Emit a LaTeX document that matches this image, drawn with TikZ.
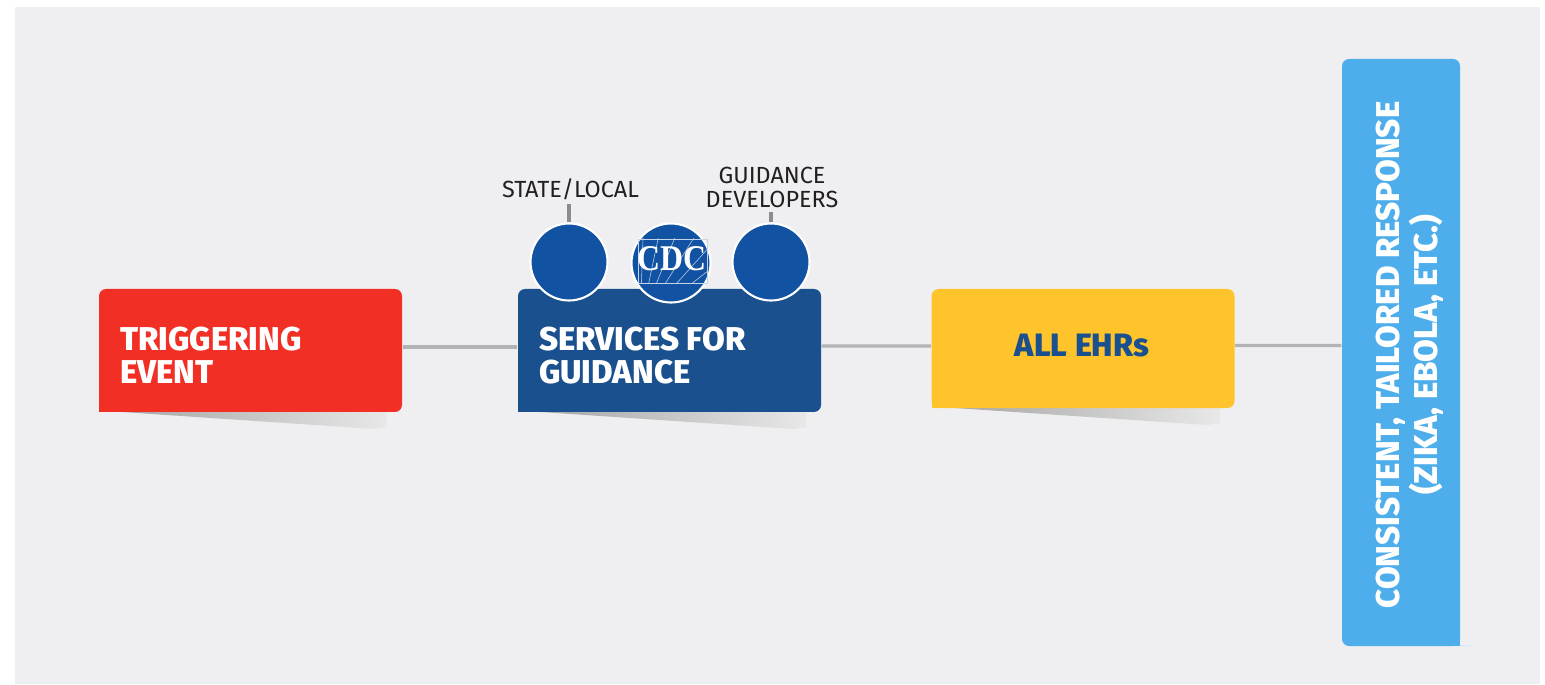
\documentclass[tikz,border=0pt]{standalone}
\usepackage{fontspec}
\setmainfont{Fira Sans}
\newfontfamily\heavyfont{Fira Sans ExtraBold}
\newfontfamily\cdcfont{Liberation Serif}
\definecolor{panelgrey}{RGB}{239,239,242}
\definecolor{trigred}{RGB}{241,47,37}
\definecolor{servblue}{RGB}{27,80,142}
\definecolor{circblue}{RGB}{18,82,162}
\definecolor{ehryellow}{RGB}{255,196,44}
\definecolor{respblue}{RGB}{77,174,235}
\definecolor{linegrey}{RGB}{178,179,181}
\definecolor{pingrey}{RGB}{140,140,142}
\definecolor{labelblack}{RGB}{35,31,32}
\tikzset{
  stepbox/.style={rounded corners=2pt,inner sep=0pt,minimum width=3.03cm},
  boxtext/.style={font=\fontsize{9.38}{9.4}\selectfont\heavyfont,text=white,inner sep=0pt},
  link/.style={linegrey,line width=0.9pt},
  pin/.style={pingrey,line width=1.1pt},
  actor/.style={circle,fill=circblue,draw=white,line width=0.6pt,minimum size=0.77cm,inner sep=0pt},
  toplabel/.style={font=\fontsize{6.65}{6.7}\selectfont\fontseries{l}\selectfont,text=labelblack,align=center,inner sep=0pt},
}
\begin{document}
\begin{tikzpicture}[x=1cm,y=1cm]
  \useasboundingbox (0,0) rectangle (15.45,6.84);
  % panel
  \fill[white] (0,0) rectangle (15.45,6.84);
  \fill[panelgrey] (0.15,0) rectangle (15.40,6.77);
  % shadows under the boxes
  \shade[left color=black!35,right color=black!9] (1.22,2.72) -- (3.74,2.55) -- (3.87,2.57) -- (3.87,2.72) -- cycle;
  \shade[left color=black!35,right color=black!9] (5.41,2.72) -- (7.93,2.55) -- (8.06,2.57) -- (8.06,2.72) -- cycle;
  \shade[left color=black!35,right color=black!9] (9.55,2.76) -- (12.07,2.59) -- (12.20,2.61) -- (12.20,2.76) -- cycle;
  \fill[respblue!30] (14.60,0.38) -- (14.73,0.38) -- (14.60,0.39) -- cycle;
  % boxes
  \fill[trigred] (0.99,2.72) rectangle (1.2,2.9);
  \node[stepbox,fill=trigred,minimum height=1.23cm] (trigger) at (2.505,3.335) {};
  \node[boxtext,align=left,anchor=west] (triggertext) at (1.195,3.285) {TRIGGERING\\EVENT};
  \fill[servblue] (5.18,2.72) rectangle (5.4,2.9);
  \node[stepbox,fill=servblue,minimum height=1.23cm] (services) at (6.695,3.335) {};
  \node[boxtext,align=left,anchor=west] (servicestext) at (5.385,3.285) {SERVICES FOR\\GUIDANCE};
  \fill[ehryellow] (9.32,2.76) rectangle (9.5,2.9);
  \node[stepbox,fill=ehryellow,minimum height=1.19cm] (ehrs) at (10.83,3.355) {};
  \node[boxtext,font=\fontsize{9.2}{9.4}\selectfont\heavyfont,text=servblue] (ehrstext) at (10.82,3.385) {ALL EHRs};
  \fill[respblue] (14.4,0.38) rectangle (14.6,0.6);
  \node[rounded corners=2pt,fill=respblue,minimum width=1.18cm,minimum height=5.87cm,inner sep=0pt] (response) at (14.01,3.315) {};
  \node[boxtext,rotate=90,align=center] (responsetext) at (14.10,3.29) {CONSISTENT, TAILORED RESPONSE\\(ZIKA, EBOLA, ETC.)};
  % links
  \draw[link] ([yshift=0.035cm]trigger.east) -- ([yshift=0.035cm]services.west);
  \draw[link] ([yshift=0.045cm]services.east) -- ([yshift=0.025cm]ehrs.west);
  \draw[link] ([yshift=0.03cm]ehrs.east) -- ([yshift=0.07cm]response.west);
  % people
  \node[toplabel] (statelabel) at (5.705,4.95) {STATE/LOCAL};
  \node[toplabel] (devlabel) at (7.72,4.965) {GUIDANCE\\DEVELOPERS};
  \node[actor] (state) at (5.69,4.22) {};
  \node[actor,minimum size=0.79cm] (cdc) at (6.71,4.21) {};
  \node[actor] (dev) at (7.71,4.22) {};
  \draw[pin] (state.north) -- (state.north |- 0,4.80);
  \draw[pin] (dev.north) -- (dev.north |- 0,4.72);
  % logo
  \begin{scope}
    \clip (6.38,4.01) rectangle (7.07,4.45);
    \foreach \a in {8,18,...,88}
      \draw[white!75!circblue,line width=0.15pt] (6.40,3.60) -- ++(\a:2);
  \end{scope}
  \draw[white!75!circblue,line width=0.15pt] (6.38,4.01) rectangle (7.07,4.45);
  \node[font=\fontsize{10.3}{10.5}\cdcfont\bfseries,text=white,inner sep=0pt,xscale=0.88] (cdctext) at (6.715,4.25) {CDC};
\end{tikzpicture}
\end{document}
